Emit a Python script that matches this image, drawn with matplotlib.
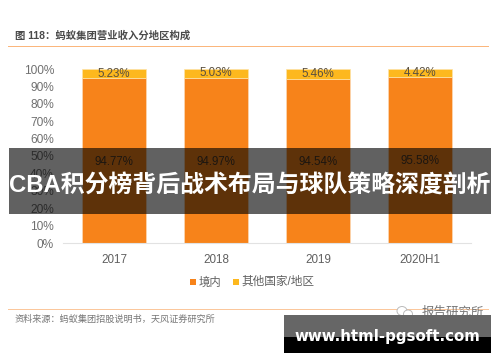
import matplotlib
matplotlib.use('Agg')
import matplotlib.pyplot as plt
from matplotlib.patches import Rectangle, Ellipse

plt.rcParams['font.family'] = ['Liberation Sans', 'Noto Sans CJK SC', 'DejaVu Sans']

W, H = 500, 362

categories = ['2017', '2018', '2019', '2020H1']
domestic = [94.77, 94.97, 94.54, 95.58]
overseas = [5.23, 5.03, 5.46, 4.42]
yticks = [0, 10, 20, 30, 40, 50, 60, 70, 80, 90, 100]
series_names = ['境内', '其他国家/地区']
chart_title = '图 118：蚂蚁集团营业收入分地区构成'
source_text = '资料来源：蚂蚁集团招股说明书，天风证券研究所'
banner_text = 'CBA积分榜背后战术布局与球队策略深度剖析'
site_text = 'www.html-pgsoft.com'
mark_text = '报告研究所'

ORANGE = '#f7831a'
YELLOW = '#fdb81e'


def px_rect(x0, y0, x1, y1, **kw):
    # rectangle given in image pixels, y measured from the top
    r = Rectangle((x0 / W, 1 - y1 / H), (x1 - x0) / W, (y1 - y0) / H,
                  transform=fig.transFigure, linewidth=0, **kw)
    fig.add_artist(r)
    return r


def px_text(x, y, s, **kw):
    return fig.text(x / W, 1 - y / H, s, **kw)


fig = plt.figure(figsize=(W / 100, H / 100), dpi=100, facecolor='white')
ax = fig.add_axes([63 / W, 1 - 243 / H, (471 - 63) / W, (243 - 69) / H])

xs = range(len(categories))
ax.bar(xs, domestic, width=0.63, color=ORANGE, edgecolor='#fcd9b5', linewidth=0.5)
ax.bar(xs, overseas, width=0.63, bottom=domestic, color=YELLOW, edgecolor='#fee3a8', linewidth=0.5)

for i in xs:
    ax.text(i, domestic[i] / 2 - 0.8, f'{domestic[i]:.2f}%', ha='center', va='center',
            fontsize=8.3, color='#4a3a2a')
    ax.text(i, domestic[i] + overseas[i] / 2, f'{overseas[i]:.2f}%', ha='center', va='center',
            fontsize=8.3, color='#5a5040')

ax.set_xlim(-0.5, 3.5)
ax.set_ylim(0, 100)
ax.set_xticks(list(xs))
ax.set_xticklabels(categories, fontsize=8.4, color='#606060')
ax.set_yticks(yticks)
ax.set_yticklabels([f'{v}%' for v in yticks], fontsize=8.6, color='#707070')
ax.tick_params(axis='y', length=0, pad=6.5)
ax.tick_params(axis='x', length=0, pad=8)
for s in ['top', 'right', 'left']:
    ax.spines[s].set_visible(False)
ax.spines['bottom'].set_color('#e2e2e2')
ax.spines['bottom'].set_linewidth(0.8)

# header, legend and footer
px_text(15, 36, chart_title, fontsize=7.45, fontweight='bold', color='#4a4a4a', va='center')
px_rect(8, 46, 489, 47.2, color='#fbb67c')
px_rect(8, 308.5, 489, 310, color='#fbc79c')
px_text(15, 319, source_text, fontsize=6.6, color='#777777', va='center')

px_rect(190, 279, 196, 285, color=ORANGE)
px_text(199, 282, series_names[0], fontsize=8.2, color='#606060', va='center')
px_rect(233, 279, 239, 285, color=YELLOW)
px_text(241, 282, series_names[1], fontsize=8.4, color='#606060', va='center')

# wechat mark, mostly covered by the box below
fig.add_artist(Ellipse((402 / W, 1 - 311 / H), 10 / W, 9 / H, transform=fig.transFigure,
                       facecolor='white', edgecolor='#bbbbbb', linewidth=0.7))
fig.add_artist(Ellipse((408 / W, 1 - 314 / H), 9 / W, 8 / H, transform=fig.transFigure,
                       facecolor='white', edgecolor='#bbbbbb', linewidth=0.7))
px_text(422, 313, mark_text, fontsize=9, color='#777777', va='center')

# overlays
px_rect(9, 148, 491, 214, color='black', alpha=0.62, zorder=5)
px_text(9, 185, banner_text, fontsize=17.2, fontweight='bold', color='white', va='center', zorder=6)

px_rect(284, 315, 491, 337, color='#666666', zorder=5)
px_rect(284, 337, 491, 353, color='black', zorder=5)
px_text(387, 337, site_text, fontsize=10.85, fontweight='bold', color='white', ha='center', va='center',
        family=['DejaVu Sans'], zorder=6)

fig.savefig('out.png', dpi=100)
